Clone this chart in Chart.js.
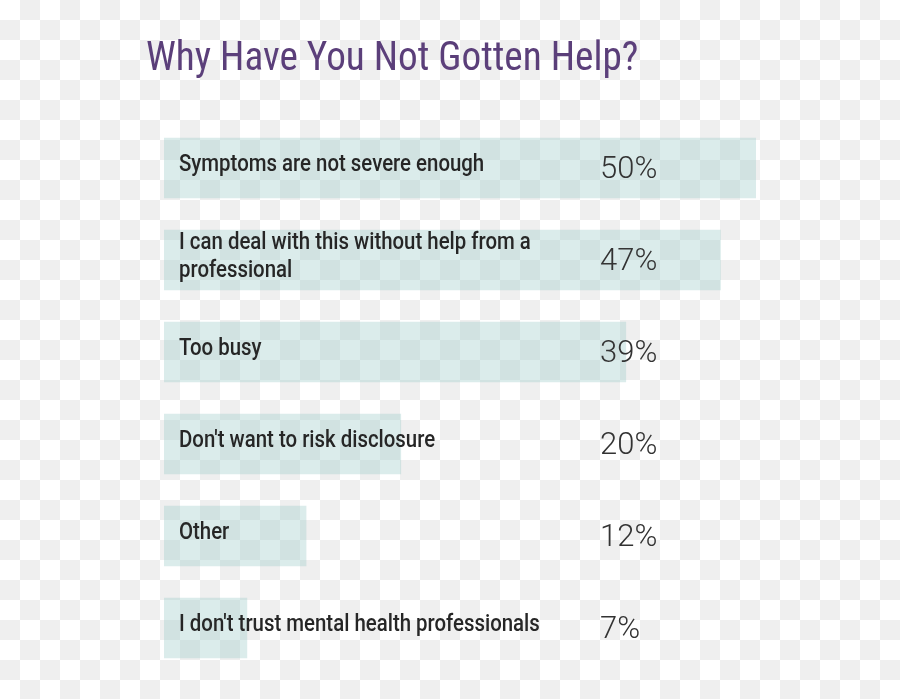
<!DOCTYPE html>
<html><head><meta charset="utf-8">
<script src="https://cdn.jsdelivr.net/npm/chart.js@4"></script>
<style>
html,body{margin:0;padding:0;width:900px;height:699px;overflow:hidden;
background-color:#fff;
background-image:linear-gradient(45deg,#efefef 25%,transparent 25%,transparent 75%,#efefef 75%),linear-gradient(45deg,#efefef 25%,transparent 25%,transparent 75%,#efefef 75%);
background-size:40px 40px;background-position:0 0,20px 20px;}
#wrap{position:absolute;left:0;top:0;width:900px;height:699px;}
</style></head><body>
<div id="wrap"><canvas id="c"></canvas></div>
<script>
const title = "Why Have You Not Gotten Help?";
const categories = [
  ["Symptoms are not severe enough"],
  ["I can deal with this without help from a", "professional"],
  ["Too busy"],
  ["Don't want to risk disclosure"],
  ["Other"],
  ["I don't trust mental health professionals"]
];
const values = [50, 47, 39, 20, 12, 7];
const valueLabels = ["50%", "47%", "39%", "20%", "12%", "7%"];

const textPlugin = {
  id: 'texts',
  afterDatasetsDraw(chart) {
    const ctx = chart.ctx;
    const y = chart.scales.y;
    ctx.save();
    ctx.fillStyle = '#5b3f7a';
    ctx.font = '40px "Roboto Condensed", Roboto, sans-serif';
    ctx.textBaseline = 'middle';
    ctx.save();
    ctx.translate(146, 60);
    ctx.scale(0.98, 1);
    ctx.fillText(title, 0, 0);
    ctx.restore();
    categories.forEach((lines, i) => {
      const cy = y.getPixelForValue(i);
      ctx.fillStyle = '#262626';
      ctx.font = '500 24px Roboto, sans-serif';
      const lh = 28;
      const start = cy - 3 - (lines.length - 1) * lh / 2;
      lines.forEach((t, k) => {
        ctx.save();
        ctx.translate(179, start + k * lh);
        ctx.scale(0.85, 1);
        ctx.fillText(t, 0, 0);
        ctx.restore();
      });
      ctx.fillStyle = '#333';
      ctx.font = '300 31px Roboto, sans-serif';
      ctx.fillText(valueLabels[i], 600, cy + 2);
    });
    ctx.restore();
  }
};

new Chart(document.getElementById('c'), {
  type: 'bar',
  data: {
    labels: categories.map(c => c.join(' ')),
    datasets: [{ data: values, backgroundColor: 'rgba(160,205,203,0.38)', barThickness: 60 }]
  },
  options: {
    indexAxis: 'y', responsive: true, maintainAspectRatio: false, animation: false,
    layout: { padding: { left: 164, right: 144, top: 122, bottom: 25 } },
    plugins: { legend: { display: false }, tooltip: { enabled: false } },
    scales: {
      x: { display: false, min: 0, max: 50 },
      y: { display: false }
    }
  },
  plugins: [textPlugin]
});
</script></body></html>
